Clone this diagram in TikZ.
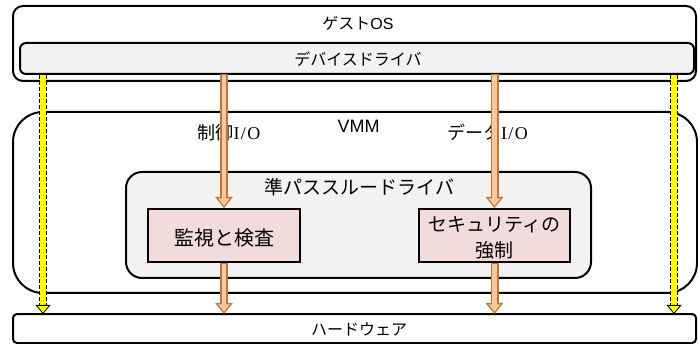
\documentclass[tikz,border=0pt]{standalone}
\usepackage{fontspec}
\setmainfont{Noto Sans CJK JP}
\newfontfamily\serifio{Liberation Serif}
\newfontfamily\latsans{Liberation Sans}
\usetikzlibrary{arrows.meta}
\definecolor{boxgray}{RGB}{242,242,242}
\definecolor{boxpink}{RGB}{242,220,219}
\definecolor{arrbrown}{RGB}{192,118,56}
\definecolor{arrfill}{RGB}{250,200,158}
\definecolor{ylw}{RGB}{255,255,0}
\newcommand{\IOtxt}{{\serifio I\kern1.5pt/\kern1.5pt O}}
\tikzset{
  bigbox/.style={draw=black, line width=2pt, rounded corners=#1},
  lbl/.style={font=\fontsize{16}{19}\selectfont, inner sep=0pt},
  blbl/.style={font=\fontsize{19}{26}\selectfont, inner sep=0pt, align=center},
  oarr/.style={draw=arrbrown, line width=8pt, -{Triangle[width=17pt,length=11pt]},
    postaction={draw=arrfill, line width=4.5pt, shorten >=2.2pt, shorten <=1pt, -{Triangle[width=11.5pt,length=7.5pt]}}},
  yshaft/.style={draw=black, line width=8pt, dash pattern=on 4pt off 2pt, shorten >=8pt},
  yarr/.style={draw=ylw, line width=6.2pt, -{Triangle[width=15pt,length=9pt,fill=ylw,color=black,line width=0.8pt]}},
}
\begin{document}
\begin{tikzpicture}[x=1pt,y=-1pt]
\useasboundingbox (0,0) rectangle (698,344);
% Guest OS
\draw[bigbox=10pt, fill=white] (13,6) rectangle (696,81);
\node[lbl] (gos) at (358,23) {ゲスト{\latsans OS}};
\draw[bigbox=6pt, fill=boxgray] (20,43) rectangle (694,74);
\node[lbl] (ddl) at (358,59) {デバイスドライバ};
\coordinate (dd) at (358,74);
% VMM
\draw[bigbox=30pt, fill=white] (13,112) rectangle (697,293);
\node[inner sep=0pt, font=\latsans\fontsize{18}{21}\selectfont] (vmm) at (358.5,126.5) {VMM};
\node[blbl, font=\fontsize{18}{22}\selectfont] (ctltxt) at (229,133) {制御\IOtxt};
\node[blbl, font=\fontsize{18}{22}\selectfont] (dattxt) at (487.5,132) {データ\IOtxt};
% pass-through driver
\draw[bigbox=16pt, fill=boxgray] (126,172) rectangle (591,278);
\node[blbl] (pt) at (359.5,187.5) {準パススルードライバ};
\node[draw=black, line width=2pt, fill=boxpink, minimum width=152pt, minimum height=53pt, inner sep=0pt, blbl, font=\fontsize{20}{24}\selectfont] (mon) at (224,235.5) {};
\node[blbl, font=\fontsize{20}{24}\selectfont] (montxt) at (224,237.5) {監視と検査};
\node[draw=black, line width=2pt, fill=boxpink, minimum width=151pt, minimum height=53pt, inner sep=0pt] (sec) at (494.5,235.5) {};
\node[blbl] (sectxt) at (494.5,238) {セキュリティの\\強制};
% Hardware
\draw[bigbox=4pt, fill=white] (13,314) rectangle (696,343);
\node[lbl] (hw) at (359,329) {ハードウェア};
\coordinate (hwtop) at (359,314);
% orange arrows
\draw[oarr] (dd -| mon.north) -- (mon.north);
\draw[oarr] (mon.south) -- (hwtop -| mon.south);
\draw[oarr] (dd -| sec.north) -- (sec.north);
\draw[oarr] (sec.south) -- (hwtop -| sec.south);
% yellow arrows
\coordinate (yl) at (43,75);
\coordinate (yr) at (674,75);
\draw[yshaft] (yl) -- (yl |- hwtop);
\draw[yarr] (yl) -- (yl |- hwtop);
\draw[yshaft] (yr) -- (yr |- hwtop);
\draw[yarr] (yr) -- (yr |- hwtop);
\end{tikzpicture}
\end{document}
